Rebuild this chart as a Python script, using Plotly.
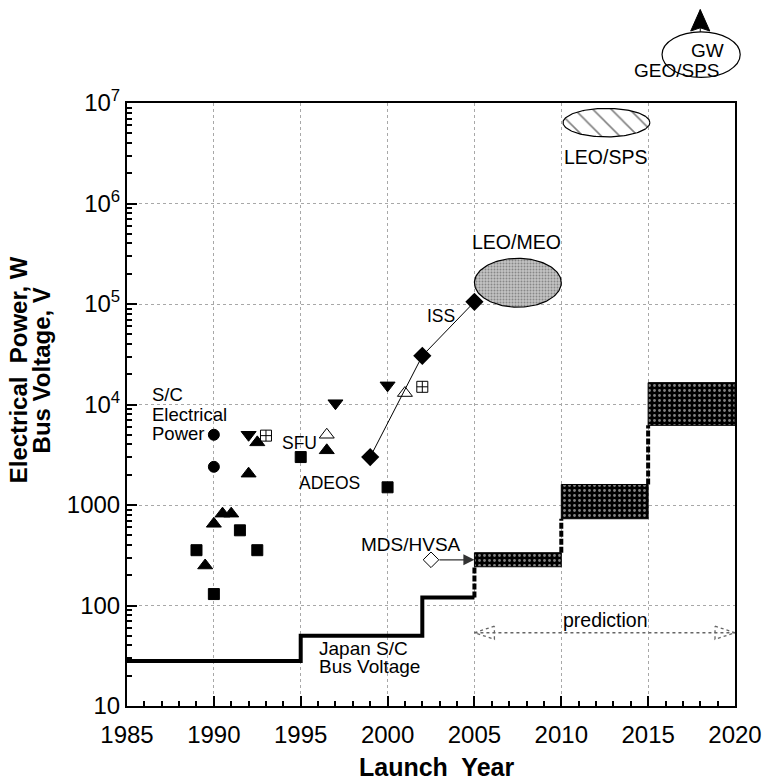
import numpy as np
import plotly.graph_objects as go

# ---------------- data ----------------
circle_year = [1990, 1990]
circle_power = [5000, 2400]

square_year = [1989, 1990, 1991.5, 1992.5, 1995, 2000]
square_power = [355, 130, 560, 355, 3000, 1500]

tri_up_year = [1989.5, 1990, 1990.5, 1991, 1992, 1992.5, 1996.5]
tri_up_power = [250, 650, 820, 820, 2050, 4200, 3500]

tri_down_year = [1992, 1997, 2000]
tri_down_power = [5000, 10300, 15500]

open_tri_year = [1996.5, 2001]
open_tri_power = [5000, 13000]

boxplus_year = [1993, 2002]
boxplus_power = [4900, 15000]

iss_year = [1999, 2002, 2005]
iss_power = [3000, 30500, 105000]

mds_year = [2002.5]
mds_power = [285]

bus_year = [1985, 1995, 2002, 2005]
bus_voltage = [28, 50, 120, 120]

pred_start = [2005, 2010, 2015]
pred_end = [2010, 2015, 2020]
pred_low = [243, 730, 6200]
pred_high = [335, 1600, 16500]

prediction_span = [2005, 2020]
prediction_level = 53.6

leo_meo_year = [2005, 2010]
leo_meo_power = [9.3e4, 2.85e5]
leo_sps_year = [2010.1, 2015.1]
leo_sps_power = [4.6e6, 8.85e6]
geo_sps_year = [2015.8, 2020.3]
geo_sps_power = [1.8e7, 5.1e7]
gw_arrow_year = 2018.0
gw_arrow_tip = 8.5e7
gw_arrow_base = 5.2e7

x_ticks = [1985, 1990, 1995, 2000, 2005, 2010, 2015, 2020]
y_ticks = [10, 100, 1000, 1e4, 1e5, 1e6, 1e7]
y_ticktext = ["10", "100", "1000", "10<sup>4</sup>", "10<sup>5</sup>",
              "10<sup>6</sup>", "10<sup>7</sup>"]

X_RANGE = [1985, 2020]
Y_RANGE = [1, 7]

FONT = "Liberation Sans, Arial, Helvetica, sans-serif"


def ellipse(yr, pw, n=160):
    t = np.linspace(0, 2 * np.pi, n)
    xc, rx = (yr[0] + yr[1]) / 2, (yr[1] - yr[0]) / 2
    l0, l1 = np.log10(pw[0]), np.log10(pw[1])
    lc, rl = (l0 + l1) / 2, (l1 - l0) / 2
    return xc + rx * np.cos(t), 10 ** (lc + rl * np.sin(t))


def px(year):
    return (year - X_RANGE[0]) / (X_RANGE[1] - X_RANGE[0])


def py(val):
    return (np.log10(val) - Y_RANGE[0]) / (Y_RANGE[1] - Y_RANGE[0])


fig = go.Figure()

# prediction bands
for x0, x1, lo, hi in zip(pred_start, pred_end, pred_low, pred_high):
    fig.add_trace(go.Scatter(
        x=[x0, x1, x1, x0, x0], y=[lo, lo, hi, hi, lo], mode="lines",
        fill="toself", line=dict(color="black", width=1),
        fillpattern=dict(shape=".", bgcolor="black", fgcolor="white",
                         size=5, solidity=0.25),
        hoverinfo="skip"))

# dashed connectors between levels
conn_lower = [bus_voltage[-1]] + pred_high[:-1]
for x0, lo, hi in zip(pred_start, conn_lower, pred_low):
    fig.add_trace(go.Scatter(x=[x0, x0], y=[lo, hi], mode="lines",
                             line=dict(color="black", width=4, dash="6px,2px"),
                             hoverinfo="skip"))

# bus voltage step line
fig.add_trace(go.Scatter(x=bus_year, y=bus_voltage, mode="lines",
                         line=dict(color="black", width=4, shape="hv"),
                         hoverinfo="skip"))

# LEO/MEO ellipse
ex, ey = ellipse(leo_meo_year, leo_meo_power)
fig.add_trace(go.Scatter(x=ex, y=ey, mode="lines", fill="toself",
                         line=dict(color="black", width=1.2),
                         fillpattern=dict(shape=".", bgcolor="#c4c4c4",
                                          fgcolor="#4a4a4a", size=3, solidity=0.35),
                         hoverinfo="skip"))

# LEO/SPS ellipse (hatched)
ex, ey = ellipse(leo_sps_year, leo_sps_power)
fig.add_trace(go.Scatter(x=ex, y=ey, mode="lines", fill="toself",
                         line=dict(color="black", width=1.2),
                         fillpattern=dict(shape="\\", bgcolor="white",
                                          fgcolor="black", size=13, solidity=0.12),
                         hoverinfo="skip"))

# prediction double arrow (dotted)
lvl = np.log10(prediction_level)
head_len, head_half = 1.15, 0.065
fig.add_trace(go.Scatter(x=prediction_span, y=[prediction_level] * 2, mode="lines",
                         line=dict(color="#666666", width=1.5, dash="dot"),
                         hoverinfo="skip"))
for tip, sgn in ((prediction_span[0], 1), (prediction_span[1], -1)):
    fig.add_trace(go.Scatter(
        x=[tip + sgn * head_len, tip, tip + sgn * head_len, tip + sgn * head_len],
        y=[10 ** (lvl + head_half), prediction_level, 10 ** (lvl - head_half),
           10 ** (lvl + head_half)],
        mode="lines", line=dict(color="#666666", width=1.3, dash="dot"),
        hoverinfo="skip"))

# ISS line
fig.add_trace(go.Scatter(x=iss_year, y=iss_power, mode="lines+markers",
                         line=dict(color="black", width=1),
                         marker=dict(symbol="diamond", size=14, color="black"),
                         hoverinfo="skip"))

marker_sets = [
    (circle_year, circle_power, "circle", 11),
    (square_year, square_power, "square", 11),
    (tri_up_year, tri_up_power, "triangle-up", 13),
    (tri_down_year, tri_down_power, "triangle-down", 13),
    (open_tri_year, open_tri_power, "triangle-up-open", 13),
    (boxplus_year, boxplus_power, "square-cross-open", 11),
    (mds_year, mds_power, "diamond-open", 12),
]
for xs, ys, sym, sz in marker_sets:
    fig.add_trace(go.Scatter(x=xs, y=ys, mode="markers",
                             marker=dict(symbol=sym, size=sz, color="black",
                                         line=dict(color="black", width=1)),
                             hoverinfo="skip"))

annotations = []


def label(text, x, logy, size=19, xanchor="center"):
    annotations.append(dict(text=text, x=x, y=logy, xref="x", yref="y",
                            showarrow=False, xanchor=xanchor, yanchor="middle",
                            font=dict(family=FONT, size=size, color="black")))


label("S/C", 1986.32, 4.095, 18.5, "left")
label("Electrical", 1986.32, 3.902, 18.5, "left")
label("Power", 1986.32, 3.713, 18.5, "left")
label("SFU", 1994.93, 3.617, 17.5)
label("ADEOS", 1996.63, 3.216, 17.5)
label("ISS", 2003.08, 4.88, 17.5)
label("LEO/MEO", 2007.45, 5.614, 19.5)
label("LEO/SPS", 2012.52, 6.466, 19.5)
label("Japan S/C", 1995.92, 1.574, 19, "left")
label("Bus Voltage", 1995.92, 1.398, 19, "left")
label("MDS/HVSA", 2001.35, 2.609, 19)
label("prediction", 2012.57, 1.856, 19.5)

# outside the plot area (paper coords derived from data values)
annotations.append(dict(text="GW", x=px(2018.43), y=(7.527 - 1) / 6,
                        xref="paper", yref="paper", showarrow=False,
                        xanchor="center", yanchor="middle",
                        font=dict(family=FONT, size=19, color="black")))
annotations.append(dict(text="GEO/SPS", x=px(2016.65), y=(7.328 - 1) / 6,
                        xref="paper", yref="paper", showarrow=False,
                        xanchor="center", yanchor="middle",
                        font=dict(family=FONT, size=19, color="black")))

# MDS/HVSA arrow
annotations.append(dict(text="", x=pred_start[0], y=np.log10(mds_power[0]),
                        xref="x", yref="y", axref="x", ayref="y",
                        ax=mds_year[0], ay=np.log10(mds_power[0]),
                        showarrow=True, arrowhead=2, arrowsize=1.7,
                        arrowwidth=1.3, arrowcolor="#333333", startstandoff=7))

# axis titles
annotations.append(dict(text="Launch  Year", x=px(2002.8), y=-0.1005,
                        xref="paper", yref="paper", showarrow=False,
                        xanchor="center", yanchor="middle",
                        font=dict(family=FONT, size=25, color="black", weight="bold")))
annotations.append(dict(text="Electrical  Power, W", x=-0.179, y=0.557,
                        xref="paper", yref="paper", showarrow=False, textangle=-90,
                        xanchor="center", yanchor="middle",
                        font=dict(family=FONT, size=24, color="black", weight="bold")))
annotations.append(dict(text="Bus Voltage, V", x=-0.141, y=0.557,
                        xref="paper", yref="paper", showarrow=False, textangle=-90,
                        xanchor="center", yanchor="middle",
                        font=dict(family=FONT, size=24, color="black", weight="bold")))

# GW arrow head (paper coords derived from data values)
hx = px(gw_arrow_year)
hw = 0.55 / (X_RANGE[1] - X_RANGE[0])
ty, by = py(gw_arrow_tip), py(gw_arrow_base)
ny = by + (ty - by) * 0.15
gw_path = (f"M{hx},{ty} L{hx + hw},{by} L{hx},{ny} L{hx - hw},{by} Z")

shapes = [
    dict(type="circle", xref="paper", yref="paper",
         x0=px(geo_sps_year[0]), x1=px(geo_sps_year[1]),
         y0=py(geo_sps_power[0]), y1=py(geo_sps_power[1]),
         line=dict(color="black", width=1.2), fillcolor="rgba(0,0,0,0)"),
    dict(type="path", xref="paper", yref="paper", path=gw_path,
         fillcolor="black", line=dict(color="black", width=1)),
    dict(type="line", xref="paper", yref="paper", x0=hx, x1=hx, y0=ty,
         y1=py(geo_sps_power[1]), line=dict(color="black", width=1)),
]

axis_common = dict(showline=True, linecolor="black", linewidth=2, mirror=True,
                   ticks="inside", ticklen=10, tickwidth=1.5, tickcolor="black",
                   showgrid=True, gridcolor="#a8a8a8", griddash="dot", gridwidth=1,
                   zeroline=False, automargin=False,
                   tickfont=dict(family=FONT, size=24, color="black"))

fig.update_layout(
    width=764, height=779,
    margin=dict(l=127, r=29, t=103, b=73),
    plot_bgcolor="white", paper_bgcolor="white",
    showlegend=False,
    annotations=annotations,
    shapes=shapes,
    xaxis=dict(range=X_RANGE, tickmode="array", tickvals=x_ticks,
               ticklabelstandoff=6,
               minor=dict(ticks="inside", ticklen=5, tickcolor="black", dtick=1,
                          showgrid=False),
               **axis_common),
    yaxis=dict(type="log", range=Y_RANGE, tickmode="array", tickvals=y_ticks,
               ticktext=y_ticktext,
               minor=dict(ticks="inside", ticklen=5, tickcolor="black", dtick="D1",
                          showgrid=False),
               **axis_common),
)

fig.write_html("out.html",
               config={"displayModeBar": False},
               post_script="document.body.style.margin='0px';"
                           "document.body.style.overflow='hidden';")
